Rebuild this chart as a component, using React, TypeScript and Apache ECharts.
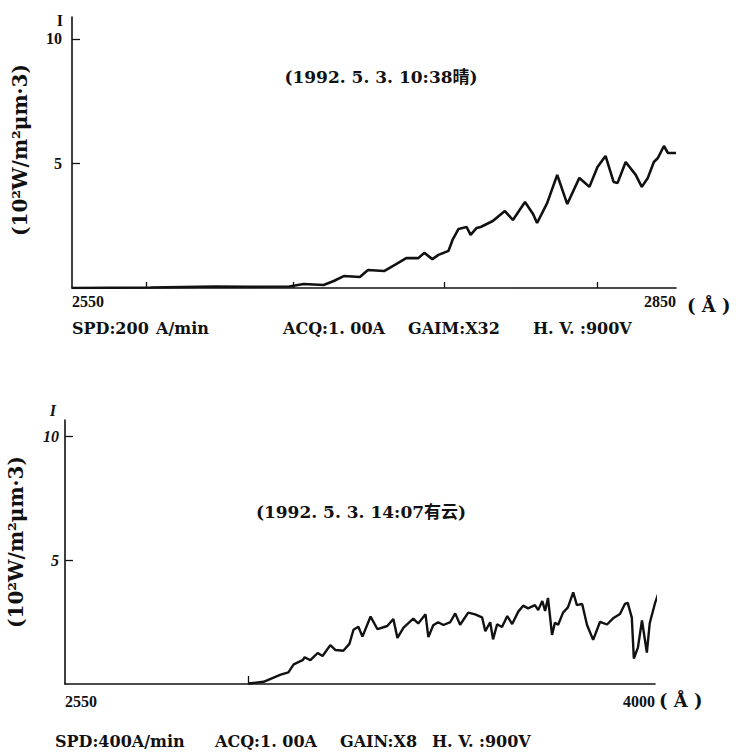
import React, { useEffect, useRef } from "react";
import * as echarts from "echarts";

// ---------- data ----------
const topWavelengths = [
  2550, 2589, 2621, 2638, 2658, 2665, 2675, 2680, 2685, 2693, 2697, 2705, 2711, 2716,
  2722, 2725, 2729, 2732, 2737, 2739, 2742, 2746, 2748, 2751, 2753, 2759, 2765, 2769,
  2775, 2779, 2781, 2786, 2791, 2796, 2802, 2807, 2811, 2815, 2819, 2821, 2825, 2830,
  2833, 2836, 2839, 2841, 2844, 2846, 2850,
];
const topIntensity = [
  0.0, 0.02, 0.06, 0.05, 0.06, 0.16, 0.12, 0.28, 0.48, 0.44, 0.72, 0.68, 0.96, 1.2,
  1.2, 1.41, 1.16, 1.33, 1.49, 1.93, 2.37, 2.45, 2.13, 2.41, 2.45, 2.69, 3.09, 2.73,
  3.45, 2.97, 2.61, 3.41, 4.54, 3.37, 4.42, 4.06, 4.86, 5.3, 4.26, 4.22, 5.06, 4.54,
  4.06, 4.42, 5.06, 5.22, 5.7, 5.42, 5.42,
];

const bottomWavelengths = [
  3000, 3038, 3080, 3099, 3112, 3134, 3139, 3153, 3171, 3183, 3202, 3215, 3234, 3249,
  3259, 3271, 3281, 3301, 3318, 3342, 3357, 3367, 3382, 3406, 3418, 3436, 3443, 3455,
  3467, 3480, 3497, 3509, 3521, 3541, 3558, 3575, 3583, 3595, 3602, 3612, 3624, 3637,
  3649, 3664, 3676, 3688, 3705, 3713, 3723, 3730, 3737, 3747, 3754, 3762, 3774, 3786,
  3799, 3808, 3821, 3833, 3848, 3865, 3882, 3897, 3914, 3926, 3933, 3943, 3948, 3958,
  3968, 3980, 3987, 4000, 4017,
];
const bottomIntensity = [
  0.02, 0.09, 0.38, 0.47, 0.79, 0.96, 1.08, 0.96, 1.25, 1.13, 1.57, 1.37, 1.34, 1.62,
  2.19, 2.31, 1.91, 2.72, 2.21, 2.34, 2.62, 1.86, 2.27, 2.64, 2.44, 2.81, 1.89, 2.37,
  2.49, 2.38, 2.5, 2.85, 2.39, 2.88, 2.81, 2.69, 2.13, 2.49, 1.8, 2.41, 2.3, 2.74,
  2.42, 2.92, 3.16, 3.05, 3.18, 2.98, 3.35, 2.95, 3.47, 1.98, 2.47, 2.39, 2.88, 3.09,
  3.7, 3.18, 3.23, 2.38, 1.78, 2.51, 2.4, 2.65, 2.82, 3.23, 3.27, 2.68, 1.03, 1.47,
  2.56, 1.27, 2.45, 3.26, 4.07,
];

const topXTicks = [2587, 2660, 2735, 2811];
const topXLabels = [2550, 2850];
const bottomXTicks = [3000];
const bottomXLabels = [2550, 4000];
const yTickValues = [5, 10];

const topTitle = "(1992. 5. 3. 10:38晴)";
const bottomTitle = "(1992. 5. 3. 14:07有云)";
const yUnit = "(10²W/m²μm·3)";
const topInfo = ["SPD:200", "A/min", "ACQ:1. 00A", "GAIM:X32", "H. V. :900V"];
const bottomInfo = ["SPD:400A/min", "ACQ:1. 00A", "GAIN:X8", "H. V. :900V"];

const FONT = '"Liberation Serif", "DejaVu Serif", "Noto Sans CJK SC", serif';
const WIDE = '"DejaVu Serif", "Noto Sans CJK SC", serif';

export default function App() {
  const ref = useRef<HTMLDivElement>(null);
  useEffect(() => {
    if (!ref.current) return;
    const chart = echarts.init(ref.current, null, { renderer: "svg" });
    const black = "#111";
    const axisLine = { show: true, lineStyle: { color: black, width: 1.6 } };
    const labelBase = { color: black, fontFamily: FONT, fontWeight: "bold", fontSize: 16 };
    const plain = (v: number) => String(v);

    const topInfoX = [72, 156, 283, 408, 533];
    const bottomInfoX = [55, 215, 340, 432];

    const graphic: any[] = [
      { type: "text", x: 381, y: 77, style: { text: topTitle, font: `bold 17px ${WIDE}`, fill: black, textAlign: "center", textVerticalAlign: "middle" } },
      { type: "text", x: 361, y: 512, style: { text: bottomTitle, font: `bold 17px ${WIDE}`, fill: black, textAlign: "center", textVerticalAlign: "middle" } },
      { type: "text", x: 20, y: 150, rotation: Math.PI / 2, style: { text: yUnit, font: `bold 20px ${WIDE}`, fill: black, textAlign: "center", textVerticalAlign: "middle" } },
      { type: "text", x: 16, y: 542, rotation: Math.PI / 2, style: { text: yUnit, font: `bold 20px ${WIDE}`, fill: black, textAlign: "center", textVerticalAlign: "middle" } },
      ...topInfo.map((t, i) => ({ type: "text", x: topInfoX[i], y: 328, style: { text: t, font: `bold 16px ${WIDE}`, fill: black, textVerticalAlign: "middle" } })),
      ...bottomInfo.map((t, i) => ({ type: "text", x: bottomInfoX[i], y: 741, style: { text: t, font: `bold 16px ${WIDE}`, fill: black, textVerticalAlign: "middle" } })),
    ];

    const option: any = {
      animation: false,
      backgroundColor: "#fff",
      grid: [
        { left: 72, top: 17, width: 604, height: 271 },
        { left: 65, top: 420, width: 590, height: 264 },
      ],
      xAxis: [
        {
          gridIndex: 0, type: "value", min: 2550, max: 2850,
          axisLine, splitLine: { show: false },
          axisTick: { show: true, inside: true, length: 6, customValues: topXTicks, lineStyle: { color: black, width: 1.3 } },
          axisLabel: { ...labelBase, customValues: topXLabels, formatter: plain, margin: 5, alignMinLabel: "left", alignMaxLabel: "right" },
          name: "( Å )", nameLocation: "end", nameGap: 11,
          nameTextStyle: { color: black, fontFamily: WIDE, fontWeight: "bold", fontSize: 18, verticalAlign: "top", padding: [9, 0, 0, 0] },
        },
        {
          gridIndex: 1, type: "value", min: 2550, max: 4000,
          axisLine, splitLine: { show: false },
          axisTick: { show: true, inside: true, length: 8, customValues: bottomXTicks, lineStyle: { color: black, width: 1.3 } },
          axisLabel: { ...labelBase, customValues: bottomXLabels, formatter: plain, margin: 9, alignMinLabel: "left", alignMaxLabel: "right" },
          name: "( Å )", nameLocation: "end", nameGap: -4,
          nameTextStyle: { color: black, fontFamily: WIDE, fontWeight: "bold", fontSize: 18, verticalAlign: "top", padding: [8, 0, 0, 0] },
        },
      ],
      yAxis: [
        {
          gridIndex: 0, type: "value", min: 0, max: 10.88,
          axisLine, splitLine: { show: false },
          axisTick: { show: true, inside: true, length: 8, customValues: yTickValues, lineStyle: { color: black, width: 1.3 } },
          axisLabel: { ...labelBase, customValues: yTickValues, formatter: plain, margin: 10 },
          name: "I", nameLocation: "end", nameGap: -3,
          nameTextStyle: { ...labelBase, fontSize: 16, align: "right", verticalAlign: "middle", padding: [0, 9, 0, 0] },
        },
        {
          gridIndex: 1, type: "value", min: 0, max: 10.65,
          axisLine, splitLine: { show: false },
          axisTick: { show: true, inside: true, length: 8, customValues: yTickValues, lineStyle: { color: black, width: 1.3 } },
          axisLabel: { ...labelBase, customValues: yTickValues, formatter: plain, margin: 6, fontStyle: "italic" },
          name: "I", nameLocation: "end", nameGap: 2,
          nameTextStyle: { ...labelBase, fontStyle: "italic", fontSize: 16, align: "right", verticalAlign: "bottom", padding: [0, 9, 0, 0] },
        },
      ],
      series: [
        {
          type: "line", xAxisIndex: 0, yAxisIndex: 0, showSymbol: false, symbol: "none",
          lineStyle: { color: black, width: 2.6 },
          data: topWavelengths.map((w, i) => [w, topIntensity[i]]),
        },
        {
          type: "line", xAxisIndex: 1, yAxisIndex: 1, showSymbol: false, symbol: "none", clip: false,
          lineStyle: { color: black, width: 2.4 },
          data: bottomWavelengths.map((w, i) => [w, bottomIntensity[i]]),
        },
      ],
      graphic,
    };
    chart.setOption(option);
    return () => chart.dispose();
  }, []);
  return (
    <div
      ref={ref}
      style={{ position: "fixed", left: 0, top: 0, width: 736, height: 755, background: "#fff" }}
    />
  );
}
